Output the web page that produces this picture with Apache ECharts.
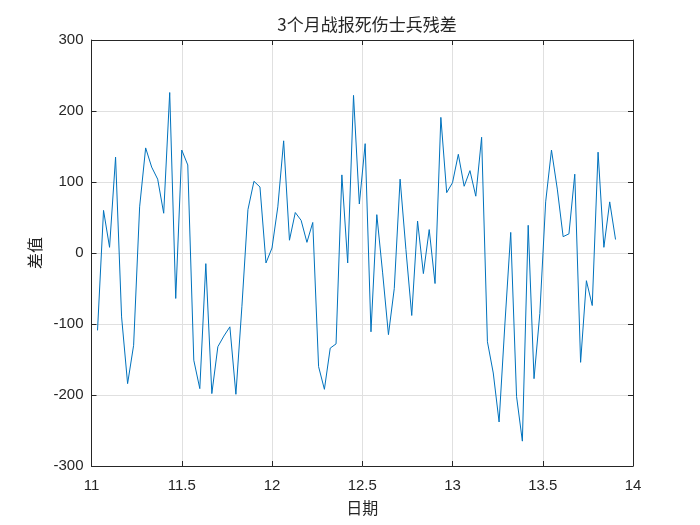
<!DOCTYPE html>
<html>
<head>
<meta charset="utf-8">
<script src="https://cdn.jsdelivr.net/npm/echarts@6/dist/echarts.min.js"></script>
<style>
html,body{margin:0;padding:0;background:#fff;}
#chart{width:700px;height:525px;}
</style>
</head>
<body>
<div id="chart"></div>
<script>
// Months (13 = January of following year) and their lengths
const months = [11, 12, 13];
const daysInMonth = [30, 31, 31];
// Residuals per day (day 1..n) for each month
const novResidual = [-109, 60, 8, 135, -90, -184, -130, 65, 148, 121, 104, 56, 226, -64, 145, 124, -151, -191, -15, -198, -132, -117, -104, -199, -75, 61, 101, 93, -14, 7];
const decResidual = [65, 158, 18, 57, 46, 15, 43, -160, -192, -134, -128, 110, -14, 222, 69, 154, -111, 54, -28, -115, -50, 104, 5, -88, 45, -29, 33, -43, 191, 85, 99];
const janResidual = [139, 94, 116, 80, 163, -125, -169, -238, -100, 29, -202, -265, 39, -177, -85, 72, 145, 90, 23, 27, 111, -154, -39, -74, 142, 8, 72, 19];
const xTicks = [11, 11.5, 12, 12.5, 13, 13.5, 14];
const yTicks = [-300, -200, -100, 0, 100, 200, 300];

const titleText = '3个月战报死伤士兵残差';
const xName = '日期';
const yName = '差值';

const residuals = [novResidual, decResidual, janResidual];
const points = [];
residuals.forEach((arr, m) => {
  arr.forEach((v, i) => {
    points.push([months[m] + (i + 1) / daysInMonth[m], v]);
  });
});

const axisColor = '#262626';
const gridColor = '#e0e0e0';
const numFont = "'Liberation Sans Narrow', 'Liberation Sans', Arial, sans-serif";
const cjkFont = "'Noto Sans CJK SC', sans-serif";

const chart = echarts.init(document.getElementById('chart'), null, {renderer: 'canvas'});

function xAx(pos, main) {
  return {
    type: 'value', position: pos,
    min: xTicks[0], max: xTicks[xTicks.length - 1], interval: 0.5,
    axisLine: {show: true, onZero: false, lineStyle: {color: axisColor, width: 1}},
    axisTick: {show: true, inside: true, length: 5, lineStyle: {color: axisColor}},
    splitLine: {show: main, lineStyle: {color: gridColor, width: 1}},
    axisLabel: {show: main, margin: 12, fontSize: 15, color: axisColor, fontFamily: numFont},
    name: main ? xName : '', nameLocation: 'middle', nameGap: 34,
    nameTextStyle: {fontSize: 16, color: axisColor, fontFamily: cjkFont}
  };
}
function yAx(pos, main) {
  return {
    type: 'value', position: pos,
    min: yTicks[0], max: yTicks[yTicks.length - 1], interval: 100,
    axisLine: {show: true, onZero: false, lineStyle: {color: axisColor, width: 1}},
    axisTick: {show: true, inside: true, length: 5, lineStyle: {color: axisColor}},
    splitLine: {show: main, lineStyle: {color: gridColor, width: 1}},
    axisLabel: {show: main, margin: 8, fontSize: 15, color: axisColor, fontFamily: numFont},
    name: main ? yName : '', nameLocation: 'middle', nameGap: 49, nameRotate: 90,
    nameTextStyle: {fontSize: 16, color: axisColor, fontFamily: cjkFont}
  };
}

chart.setOption({
  animation: false,
  backgroundColor: '#ffffff',
  title: {
    text: titleText, left: 362, top: 11, textAlign: 'center',
    textStyle: {fontSize: 17, fontWeight: 'normal', color: axisColor, fontFamily: cjkFont}
  },
  grid: {left: 91.5, right: 67, top: 40, bottom: 59, containLabel: false, outerBoundsMode: 'none'},
  xAxis: [xAx('bottom', true), xAx('top', false)],
  yAxis: [yAx('left', true), yAx('right', false)],
  series: [{
    type: 'line', data: points, xAxisIndex: 0, yAxisIndex: 0,
    showSymbol: false, symbol: 'none',
    lineStyle: {color: '#0072BD', width: 1},
    z: 3
  }]
});
</script>
</body>
</html>
